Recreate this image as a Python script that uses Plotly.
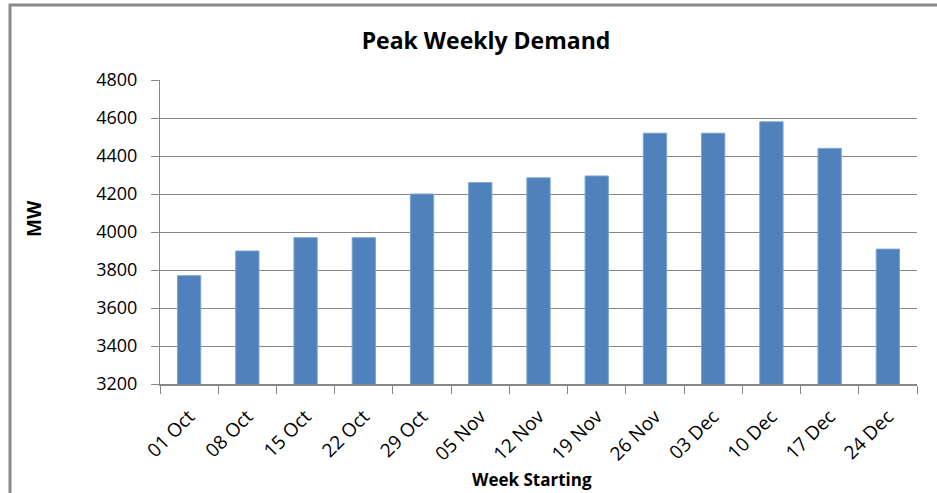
import plotly.graph_objects as go

weeks = ["01 Oct", "08 Oct", "15 Oct", "22 Oct", "29 Oct", "05 Nov", "12 Nov",
         "19 Nov", "26 Nov", "03 Dec", "10 Dec", "17 Dec", "24 Dec"]
demand_mw = [3770, 3900, 3970, 3970, 4200, 4260, 4285, 4295, 4520, 4520, 4580, 4440, 3910]
y_ticks = [3200, 3400, 3600, 3800, 4000, 4200, 4400, 4600, 4800]

W, H = 937, 493
L, R, T, B = 160, 20, 80, 109
pw, ph = W - L - R, H - T - B

def px_x(x):
    return (x - L) / pw

def px_y(y):
    return (H - B - y) / ph

font = "Open Sans"
grid = "#878787"

fig = go.Figure(go.Bar(
    x=weeks, y=demand_mw,
    marker=dict(color="#4F81BD", line=dict(color="#7FA3D0", width=1)),
))

fig.update_layout(
    width=W, height=H,
    margin=dict(l=L, r=R, t=T, b=B),
    paper_bgcolor="white", plot_bgcolor="white",
    bargap=0.6,
    showlegend=False,
    font=dict(family=font, color="#000000"),
    title=dict(text="<b>Peak Weekly Demand</b>", xref="container", x=486 / W,
               xanchor="center", yref="container", y=1 - 41 / H, yanchor="middle",
               font=dict(size=23, family=font, color="#000")),
    xaxis=dict(
        type="category", tickangle=-45, tickfont=dict(size=19, family=font, color="#000"),
        showline=True, linecolor=grid, linewidth=2,
        ticks="outside", tickson="boundaries", ticklen=8, tickcolor=grid, tickwidth=1,
        ticklabelstandoff=12,
        showgrid=False,
    ),
    yaxis=dict(
        range=[3200, 4800], tickvals=y_ticks, tickfont=dict(size=18, family=font, color="#000"),
        showline=True, linecolor=grid, linewidth=1,
        ticks="outside", ticklen=8, tickcolor=grid, ticklabelstandoff=10,
        showgrid=True, gridcolor=grid, gridwidth=1, zeroline=False,
    ),
    annotations=[
        dict(text="<b>MW</b>", xref="paper", yref="paper", x=px_x(34), y=px_y(219),
             textangle=-90, showarrow=False, font=dict(size=19, family=font, color="#000"),
             xanchor="center", yanchor="middle"),
        dict(text="<b>Week Starting</b>", xref="paper", yref="paper", x=px_x(532), y=px_y(479),
             showarrow=False, font=dict(size=17, family=font, color="#000"),
             xanchor="center", yanchor="middle"),
    ],
    shapes=[
        dict(type="rect", xref="paper", yref="paper", x0=px_x(10), x1=px_x(960),
             y0=px_y(520), y1=px_y(5), line=dict(color="#8a8a8a", width=3),
             fillcolor="rgba(0,0,0,0)", layer="below"),
    ],
)

fig.write_html("out.html", config={"displayModeBar": False},
               post_script="document.body.style.margin='0';document.body.style.overflow='hidden';")
